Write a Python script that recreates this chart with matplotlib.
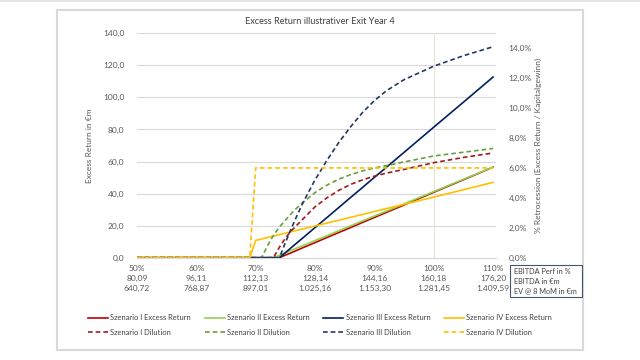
import matplotlib
matplotlib.use('Agg')
import matplotlib.pyplot as plt
from matplotlib.patches import Rectangle
from matplotlib.ticker import FuncFormatter, MultipleLocator

plt.rcParams['font.family'] = ['Lato', 'DejaVu Sans']

# EBITDA performance (in %) at which values were read
perf = [50, 69, 70, 71, 72, 73, 74, 75, 76, 77, 78, 80, 82, 84, 86, 88, 90, 92, 95, 100, 105, 110]

# excess return in EUR m
er_1 = [0, 0, 0, 0, 0, 0, 0, 1.6, 3.1, 4.7, 6.3, 9.4, 12.6, 15.7, 18.8, 22.0, 25.1, 28.2, 32.9, 40.8, 48.6, 56.5]
er_2 = [0, 0, 0, 0, 0, 0, 1.5, 3.1, 4.6, 6.1, 7.6, 10.7, 13.7, 16.8, 19.9, 22.9, 26.0, 29.0, 33.6, 41.2, 48.9, 56.5]
er_3 = [0, 0, 0, 0, 0, 0, 0, 3.1, 6.3, 9.4, 12.5, 18.8, 25.0, 31.3, 37.6, 43.8, 50.1, 56.3, 65.7, 81.4, 97.0, 112.7]
er_4 = [0, 0, 10.8, 11.7, 12.6, 13.5, 14.4, 15.3, 16.2, 17.1, 18.0, 19.8, 21.6, 23.4, 25.2, 27.0, 28.8, 30.6, 33.3, 37.8, 42.4, 47.0]

# dilution / retrocession in %
dil_1 = [0, 0, 0, 0, 0, 0, 0.7, 1.3, 1.8, 2.2, 2.6, 3.4, 4.0, 4.5, 4.9, 5.2, 5.45, 5.65, 5.9, 6.35, 6.7, 7.0]
dil_2 = [0, 0, 0, 0, 0.8, 1.5, 2.05, 2.5, 2.95, 3.35, 3.7, 4.35, 4.85, 5.25, 5.55, 5.8, 6.0, 6.15, 6.4, 6.8, 7.05, 7.3]
dil_3 = [0, 0, 0, 0, 0, 0, 0, 1.0, 1.95, 2.85, 3.7, 5.2, 6.5, 7.7, 8.75, 9.7, 10.5, 11.15, 11.9, 12.8, 13.5, 14.1]
dil_4 = [0, 0, 6.0, 6.0, 6.0, 6.0, 6.0, 6.0, 6.0, 6.0, 6.0, 6.0, 6.0, 6.0, 6.0, 6.0, 6.0, 6.0, 6.0, 6.0, 6.0, 6.0]

# x axis labels
tick_perf = [50, 60, 70, 80, 90, 100, 110]
tick_ebitda = ['80,09', '96,11', '112,13', '128,14', '144,16', '160,18', '176,20']
tick_ev = ['640,72', '768,87', '897,01', '1.025,16', '1.153,30', '1.281,45', '1.409,59']

scen = ['I', 'II', 'III', 'IV']
col_er = ['#C00000', '#92D050', '#002060', '#FFC000']
col_dil = ['#A01C1C', '#6A9E3F', '#1F3864', '#FFC000']

txt = '#595959'
fs = 6.0

fig = plt.figure(figsize=(6.4, 3.6), dpi=100)
fig.patches.append(Rectangle((0, 1 - 2/360), 1, 2/360, transform=fig.transFigure,
                             facecolor='#e6e6e6', edgecolor='none'))
fig.patches.append(Rectangle((57/640, 1 - 350/360), 526/640, 340/360, transform=fig.transFigure,
                             fill=False, edgecolor='#d9d9d9', lw=1.5))

ax = fig.add_axes([137/640, 1 - 257.7/360, 359/640, 224.4/360])
ax2 = ax.twinx()

lines_er = []
for i in range(4):
    l, = ax.plot(perf, [er_1, er_2, er_3, er_4][i], color=col_er[i], lw=1.2,
                 label='Szenario ' + scen[i] + ' Excess Return', zorder=3)
    lines_er.append(l)
lines_dil = []
for i in range(4):
    l, = ax2.plot(perf, [v/100 for v in [dil_1, dil_2, dil_3, dil_4][i]], color=col_dil[i], lw=1.2,
                  ls=(0, (2.8, 1.8)), label='Szenario ' + scen[i] + ' Dilution')
    lines_dil.append(l)

ax.set_xlim(50, 110.5)
ax.set_ylim(0, 140)
ax.yaxis.set_major_locator(MultipleLocator(20))
ax2.yaxis.set_major_locator(MultipleLocator(0.02))
ax2.set_ylim(0, 0.15)
ax.yaxis.set_major_formatter(FuncFormatter(lambda v, p: ('%.1f' % v).replace('.', ',')))
ax2.yaxis.set_major_formatter(FuncFormatter(lambda v, p: ('%.1f%%' % (v*100)).replace('.', ',') if v < 0.145 else ''))
ax.set_xticks(tick_perf)
ax.set_xticklabels(['%d%%\n%s\n%s' % (tick_perf[i], tick_ebitda[i], tick_ev[i]) for i in range(len(tick_perf))],
                   linespacing=1.5)

ax.grid(axis='y', color='#d9d9d9', lw=0.8)
ax.axvline(100, color='#e4e4da', lw=0.8, zorder=1)
ax.set_axisbelow(True)
for a in (ax, ax2):
    for s in ['top', 'left', 'right']:
        a.spines[s].set_visible(False)
    a.spines['bottom'].set_color('#d9d9d9')
    a.tick_params(length=0, labelsize=fs, labelcolor=txt)
ax.tick_params(axis='y', pad=9)
ax.tick_params(axis='x', pad=5)
ax2.tick_params(axis='y', pad=9)

ax.set_ylabel('Excess Return in €m', fontsize=fs, color=txt, labelpad=7)
ax2.set_ylabel('% Retrocession (Excess Return / Kapitalgewinn)', fontsize=fs, color=txt, labelpad=2)

fig.text(0.5, 1 - 22/360, 'Excess Return illustrativer Exit Year 4', ha='center', va='center',
         fontsize=6.6, color='#404040')

# label box for the x axis rows
fig.patches.append(Rectangle((510/640, 1 - 297/360), 72/640, 32/360, transform=fig.transFigure,
                             fill=False, edgecolor='#44546A', lw=0.8))
fig.text(514/640, 1 - 281/360, 'EBITDA Perf in %\nEBITDA in €m\nEV @ 8 MoM in €m',
         ha='left', va='center', fontsize=5.3, color='#404040', linespacing=1.4)

handles = []
for i in range(4):
    handles += [lines_er[i], lines_dil[i]]
leg = fig.legend(handles=handles, loc='center', bbox_to_anchor=(0.5, 1 - 325/360), ncol=4,
                 frameon=False, fontsize=5.4, handlelength=2.7, columnspacing=1.8,
                 handletextpad=0.3, labelspacing=1.0)
for t in leg.get_texts():
    t.set_color('#404040')

fig.savefig('out.png', dpi=100)
